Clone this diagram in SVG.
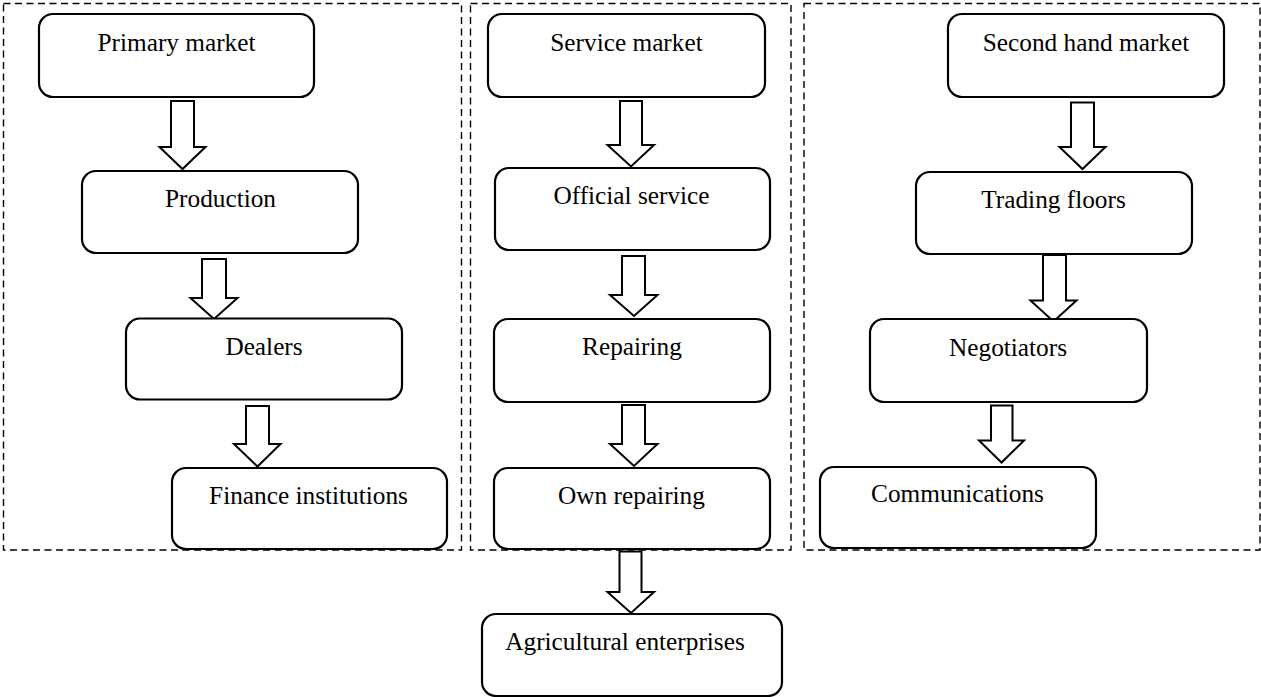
<svg xmlns="http://www.w3.org/2000/svg" width="1261" height="697" viewBox="0 0 1261 697">
<style>
.frame{fill:none;stroke:#000;stroke-width:1.4;stroke-dasharray:7 4.5}
.box{fill:#fff;stroke:#000;stroke-width:2.2}
.arr{fill:#fff;stroke:#000;stroke-width:2;stroke-linejoin:miter}
text{font-family:"Liberation Serif","Times New Roman",serif;font-size:25.3px;fill:#000;text-anchor:middle}
</style>
<rect width="1261" height="697" fill="#fff"/>
<g id="frames">
<rect class="frame" x="3.5" y="3.5" width="458" height="546.5"/>
<rect class="frame" x="470.5" y="3.5" width="320.5" height="546.5"/>
<rect class="frame" x="804" y="3.5" width="456" height="546.5"/>
</g>
<g id="connectors">
<path class="arr" d="M171,101 H194 V147 H205.5 L182.5,169 L159.5,147 H171 Z"/>
<path class="arr" d="M202,259 H226 V298 H237.5 L214,319 L190.5,298 H202 Z"/>
<path class="arr" d="M246,406 H269 V444 H280.5 L257.5,466.5 L234,444 H246 Z"/>
<path class="arr" d="M620,101 H642 V145 H654 L631,166.5 L607.5,145 H620 Z"/>
<path class="arr" d="M622,256 H645 V295 H657.5 L634,316 L610,295 H622 Z"/>
<path class="arr" d="M622,405 H645 V444 H657.5 L634,466 L610,444 H622 Z"/>
<path class="arr" d="M619.5,551.5 H641.5 V592 H654 L631,613 L607.5,592 H619.5 Z"/>
<path class="arr" d="M1071,102.5 H1094 V147 H1105.5 L1082.5,169 L1059.5,147 H1071 Z"/>
<path class="arr" d="M1043,255 H1066 V300.5 H1076.5 L1053.5,321.5 L1030.5,300.5 H1043 Z"/>
<path class="arr" d="M991,405.5 H1012.5 V440.5 H1024 L1001.5,462.5 L979,440.5 H991 Z"/>
</g>
<g id="primary-market"><rect class="box" x="39" y="14" width="275" height="83" rx="14"/><text x="176.5" y="51">Primary market</text></g>
<g id="production"><rect class="box" x="82" y="171" width="276" height="82" rx="14"/><text x="220.5" y="207">Production</text></g>
<g id="dealers"><rect class="box" x="126" y="318.5" width="276" height="81" rx="14"/><text x="264" y="355">Dealers</text></g>
<g id="finance-institutions"><rect class="box" x="172" y="468" width="275" height="81" rx="14"/><text x="308.5" y="504">Finance institutions</text></g>
<g id="service-market"><rect class="box" x="488" y="14" width="277" height="83" rx="14"/><text x="626.5" y="51">Service market</text></g>
<g id="official-service"><rect class="box" x="495" y="168" width="275" height="82" rx="14"/><text x="631.5" y="204">Official service</text></g>
<g id="repairing"><rect class="box" x="494" y="319" width="276" height="83" rx="14"/><text x="632" y="355">Repairing</text></g>
<g id="own-repairing"><rect class="box" x="494" y="468" width="276" height="81" rx="14"/><text x="631.5" y="504">Own repairing</text></g>
<g id="agricultural-enterprises"><rect class="box" x="482" y="614" width="300" height="82" rx="14"/><text x="625" y="650">Agricultural enterprises</text></g>
<g id="second-hand-market"><rect class="box" x="948" y="14" width="276" height="83" rx="14"/><text x="1086" y="51">Second hand market</text></g>
<g id="trading-floors"><rect class="box" x="916" y="172" width="276" height="82" rx="14"/><text x="1053.5" y="208">Trading floors</text></g>
<g id="negotiators"><rect class="box" x="870" y="319" width="277" height="83" rx="14"/><text x="1008" y="356">Negotiators</text></g>
<g id="communications"><rect class="box" x="820" y="467" width="276" height="81" rx="14"/><text x="957.5" y="502">Communications</text></g>
</svg>
